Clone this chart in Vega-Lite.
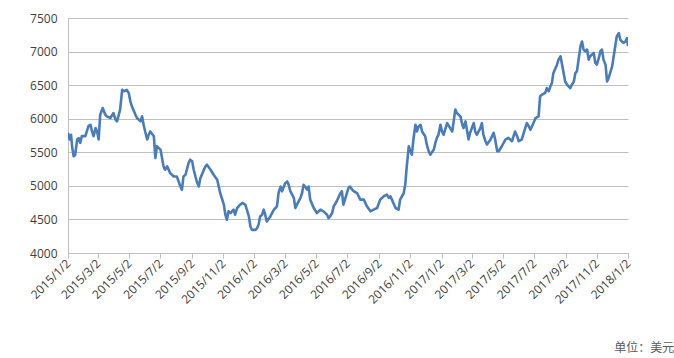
{
  "$schema": "https://vega.github.io/schema/vega-lite/v6.json",
  "width": 560,
  "height": 235,
  "autosize": "none",
  "padding": {"left": 68, "top": 18, "right": 46, "bottom": 105},
  "background": "#ffffff",
  "config": {"view": {"stroke": null}, "font": "Open Sans"},
  "title": {"text": "单位：美元", "orient": "bottom", "anchor": "end", "dx": 42, "offset": 38, "font": "Noto Sans CJK SC", "fontSize": 12, "fontWeight": "normal", "color": "#595959"},
  "data": {"values": [
{"d":"2015/01/02","v":5790},{"d":"2015/01/05","v":5690},{"d":"2015/01/08","v":5760},{"d":"2015/01/10","v":5590},{"d":"2015/01/13","v":5440},{"d":"2015/01/16","v":5460},{"d":"2015/01/20","v":5690},{"d":"2015/01/23","v":5710},{"d":"2015/01/26","v":5640},{"d":"2015/01/29","v":5740},{"d":"2015/02/05","v":5740},{"d":"2015/02/11","v":5890},{"d":"2015/02/15","v":5910},{"d":"2015/02/18","v":5810},{"d":"2015/02/21","v":5740},{"d":"2015/02/25","v":5860},{"d":"2015/02/28","v":5810},{"d":"2015/03/03","v":5690},{"d":"2015/03/06","v":6060},{"d":"2015/03/11","v":6160},{"d":"2015/03/16","v":6060},{"d":"2015/03/19","v":6035},{"d":"2015/03/26","v":6010},{"d":"2015/04/01","v":6085},{"d":"2015/04/05","v":5985},{"d":"2015/04/08","v":5960},{"d":"2015/04/14","v":6135},{"d":"2015/04/18","v":6430},{"d":"2015/04/21","v":6410},{"d":"2015/04/27","v":6430},{"d":"2015/05/01","v":6380},{"d":"2015/05/04","v":6260},{"d":"2015/05/07","v":6185},{"d":"2015/05/14","v":6060},{"d":"2015/05/17","v":6010},{"d":"2015/05/24","v":5960},{"d":"2015/05/27","v":6035},{"d":"2015/05/30","v":5910},{"d":"2015/06/02","v":5810},{"d":"2015/06/06","v":5690},{"d":"2015/06/09","v":5760},{"d":"2015/06/12","v":5810},{"d":"2015/06/19","v":5740},{"d":"2015/06/22","v":5415},{"d":"2015/06/25","v":5590},{"d":"2015/07/02","v":5540},{"d":"2015/07/08","v":5290},{"d":"2015/07/11","v":5240},{"d":"2015/07/15","v":5290},{"d":"2015/07/21","v":5190},{"d":"2015/07/28","v":5140},{"d":"2015/08/03","v":5140},{"d":"2015/08/10","v":4990},{"d":"2015/08/13","v":4940},{"d":"2015/08/16","v":5140},{"d":"2015/08/20","v":5165},{"d":"2015/08/26","v":5340},{"d":"2015/08/29","v":5390},{"d":"2015/09/02","v":5365},{"d":"2015/09/05","v":5240},{"d":"2015/09/11","v":5065},{"d":"2015/09/15","v":4990},{"d":"2015/09/18","v":5115},{"d":"2015/09/25","v":5240},{"d":"2015/09/28","v":5290},{"d":"2015/10/01","v":5315},{"d":"2015/10/08","v":5240},{"d":"2015/10/14","v":5165},{"d":"2015/10/21","v":5090},{"d":"2015/10/27","v":4890},{"d":"2015/11/03","v":4720},{"d":"2015/11/06","v":4570},{"d":"2015/11/09","v":4495},{"d":"2015/11/12","v":4620},{"d":"2015/11/16","v":4595},{"d":"2015/11/22","v":4645},{"d":"2015/11/25","v":4570},{"d":"2015/11/29","v":4670},{"d":"2015/12/05","v":4720},{"d":"2015/12/09","v":4745},{"d":"2015/12/15","v":4720},{"d":"2015/12/18","v":4645},{"d":"2015/12/22","v":4545},{"d":"2015/12/25","v":4395},{"d":"2015/12/28","v":4345},{"d":"2016/01/04","v":4345},{"d":"2016/01/07","v":4370},{"d":"2016/01/10","v":4420},{"d":"2016/01/13","v":4545},{"d":"2016/01/17","v":4570},{"d":"2016/01/20","v":4645},{"d":"2016/01/23","v":4570},{"d":"2016/01/26","v":4470},{"d":"2016/02/02","v":4545},{"d":"2016/02/09","v":4645},{"d":"2016/02/15","v":4695},{"d":"2016/02/18","v":4890},{"d":"2016/02/22","v":4990},{"d":"2016/02/25","v":4920},{"d":"2016/03/02","v":5040},{"d":"2016/03/06","v":5065},{"d":"2016/03/09","v":5015},{"d":"2016/03/12","v":4920},{"d":"2016/03/19","v":4820},{"d":"2016/03/22","v":4670},{"d":"2016/03/25","v":4720},{"d":"2016/04/01","v":4820},{"d":"2016/04/04","v":4890},{"d":"2016/04/07","v":5015},{"d":"2016/04/10","v":4990},{"d":"2016/04/14","v":4945},{"d":"2016/04/17","v":4990},{"d":"2016/04/20","v":4795},{"d":"2016/04/27","v":4670},{"d":"2016/05/03","v":4595},{"d":"2016/05/10","v":4645},{"d":"2016/05/16","v":4620},{"d":"2016/05/23","v":4570},{"d":"2016/05/26","v":4520},{"d":"2016/05/29","v":4545},{"d":"2016/06/02","v":4595},{"d":"2016/06/05","v":4695},{"d":"2016/06/11","v":4770},{"d":"2016/06/18","v":4890},{"d":"2016/06/21","v":4920},{"d":"2016/06/24","v":4720},{"d":"2016/06/27","v":4795},{"d":"2016/07/04","v":4970},{"d":"2016/07/07","v":4990},{"d":"2016/07/11","v":4945},{"d":"2016/07/14","v":4920},{"d":"2016/07/21","v":4890},{"d":"2016/07/27","v":4795},{"d":"2016/08/03","v":4795},{"d":"2016/08/09","v":4695},{"d":"2016/08/16","v":4620},{"d":"2016/08/22","v":4645},{"d":"2016/08/29","v":4670},{"d":"2016/09/04","v":4795},{"d":"2016/09/11","v":4845},{"d":"2016/09/17","v":4870},{"d":"2016/09/21","v":4820},{"d":"2016/09/24","v":4845},{"d":"2016/09/27","v":4795},{"d":"2016/10/04","v":4670},{"d":"2016/10/10","v":4645},{"d":"2016/10/13","v":4795},{"d":"2016/10/20","v":4890},{"d":"2016/10/23","v":5015},{"d":"2016/10/26","v":5290},{"d":"2016/10/30","v":5590},{"d":"2016/11/02","v":5515},{"d":"2016/11/05","v":5465},{"d":"2016/11/08","v":5690},{"d":"2016/11/12","v":5910},{"d":"2016/11/15","v":5810},{"d":"2016/11/18","v":5885},{"d":"2016/11/22","v":5910},{"d":"2016/11/25","v":5810},{"d":"2016/12/01","v":5740},{"d":"2016/12/05","v":5590},{"d":"2016/12/08","v":5515},{"d":"2016/12/11","v":5465},{"d":"2016/12/18","v":5540},{"d":"2016/12/21","v":5640},{"d":"2016/12/24","v":5715},{"d":"2016/12/27","v":5760},{"d":"2016/12/31","v":5910},{"d":"2017/01/03","v":5810},{"d":"2017/01/06","v":5760},{"d":"2017/01/13","v":5935},{"d":"2017/01/19","v":5860},{"d":"2017/01/23","v":5810},{"d":"2017/01/29","v":6135},{"d":"2017/02/01","v":6085},{"d":"2017/02/08","v":6035},{"d":"2017/02/11","v":5935},{"d":"2017/02/14","v":5860},{"d":"2017/02/18","v":5960},{"d":"2017/02/24","v":5690},{"d":"2017/02/27","v":5790},{"d":"2017/03/06","v":5935},{"d":"2017/03/09","v":5810},{"d":"2017/03/12","v":5760},{"d":"2017/03/19","v":5860},{"d":"2017/03/22","v":5935},{"d":"2017/03/25","v":5760},{"d":"2017/03/29","v":5665},{"d":"2017/04/01","v":5615},{"d":"2017/04/08","v":5690},{"d":"2017/04/14","v":5790},{"d":"2017/04/17","v":5690},{"d":"2017/04/21","v":5515},{"d":"2017/04/24","v":5515},{"d":"2017/04/30","v":5590},{"d":"2017/05/07","v":5690},{"d":"2017/05/13","v":5715},{"d":"2017/05/20","v":5665},{"d":"2017/05/26","v":5810},{"d":"2017/05/30","v":5740},{"d":"2017/06/02","v":5665},{"d":"2017/06/08","v":5690},{"d":"2017/06/12","v":5790},{"d":"2017/06/18","v":5935},{"d":"2017/06/22","v":5885},{"d":"2017/06/25","v":5835},{"d":"2017/07/01","v":5935},{"d":"2017/07/05","v":6010},{"d":"2017/07/11","v":6035},{"d":"2017/07/14","v":6335},{"d":"2017/07/18","v":6360},{"d":"2017/07/24","v":6385},{"d":"2017/07/27","v":6455},{"d":"2017/07/31","v":6410},{"d":"2017/08/03","v":6480},{"d":"2017/08/06","v":6530},{"d":"2017/08/09","v":6680},{"d":"2017/08/16","v":6805},{"d":"2017/08/19","v":6880},{"d":"2017/08/23","v":6930},{"d":"2017/08/26","v":6805},{"d":"2017/08/29","v":6680},{"d":"2017/09/01","v":6555},{"d":"2017/09/05","v":6505},{"d":"2017/09/11","v":6455},{"d":"2017/09/14","v":6505},{"d":"2017/09/18","v":6555},{"d":"2017/09/21","v":6680},{"d":"2017/09/24","v":6705},{"d":"2017/10/01","v":7080},{"d":"2017/10/04","v":7150},{"d":"2017/10/07","v":7030},{"d":"2017/10/10","v":7005},{"d":"2017/10/14","v":7030},{"d":"2017/10/17","v":6880},{"d":"2017/10/20","v":6930},{"d":"2017/10/27","v":6980},{"d":"2017/10/30","v":6830},{"d":"2017/11/02","v":6805},{"d":"2017/11/06","v":6905},{"d":"2017/11/09","v":7005},{"d":"2017/11/12","v":7030},{"d":"2017/11/15","v":6880},{"d":"2017/11/19","v":6805},{"d":"2017/11/22","v":6555},{"d":"2017/11/25","v":6605},{"d":"2017/11/28","v":6680},{"d":"2017/12/02","v":6780},{"d":"2017/12/05","v":6930},{"d":"2017/12/08","v":7080},{"d":"2017/12/11","v":7225},{"d":"2017/12/15","v":7275},{"d":"2017/12/18","v":7175},{"d":"2017/12/21","v":7150},{"d":"2017/12/24","v":7130},{"d":"2017/12/28","v":7150},{"d":"2017/12/31","v":7200},{"d":"2018/01/02","v":7080}
  ]},
  "mark": {"type": "line", "color": "#4a7cb8", "strokeWidth": 2.6, "strokeJoin": "round", "clip": true},
  "encoding": {
    "x": {"field": "d", "type": "temporal", "title": null,
      "scale": {"domain": [{"year": 2015, "month": 1, "date": 2}, {"year": 2018, "month": 1, "date": 2}], "nice": false},
      "axis": {
        "values": [{"year":2015,"month":1,"date":2},{"year":2015,"month":3,"date":2},{"year":2015,"month":5,"date":2},{"year":2015,"month":7,"date":2},{"year":2015,"month":9,"date":2},{"year":2015,"month":11,"date":2},{"year":2016,"month":1,"date":2},{"year":2016,"month":3,"date":2},{"year":2016,"month":5,"date":2},{"year":2016,"month":7,"date":2},{"year":2016,"month":9,"date":2},{"year":2016,"month":11,"date":2},{"year":2017,"month":1,"date":2},{"year":2017,"month":3,"date":2},{"year":2017,"month":5,"date":2},{"year":2017,"month":7,"date":2},{"year":2017,"month":9,"date":2},{"year":2017,"month":11,"date":2},{"year":2018,"month":1,"date":2}],
        "format": "%Y/%-m/%-d", "labelAngle": -45, "labelAlign": "right", "labelBaseline": "middle",
        "labelFontSize": 12, "labelColor": "#404040", "labelPadding": 3, "labelFont": "Open Sans",
        "grid": false, "tickSize": 5, "tickColor": "#bfbfbf", "domainColor": "#bfbfbf", "labelOverlap": false, "labelFlush": false, "labelBound": false
      }},
    "y": {"field": "v", "type": "quantitative", "title": null,
      "scale": {"domain": [4000, 7500], "nice": false, "zero": false},
      "axis": {"values": [4000, 4500, 5000, 5500, 6000, 6500, 7000, 7500], "format": "d", "grid": true, "gridColor": "#bfbfbf", "ticks": false, "domainColor": "#bfbfbf", "labelFontSize": 12, "labelColor": "#404040", "labelPadding": 11, "labelFont": "Open Sans", "labelFlush": false}}
  }
}
